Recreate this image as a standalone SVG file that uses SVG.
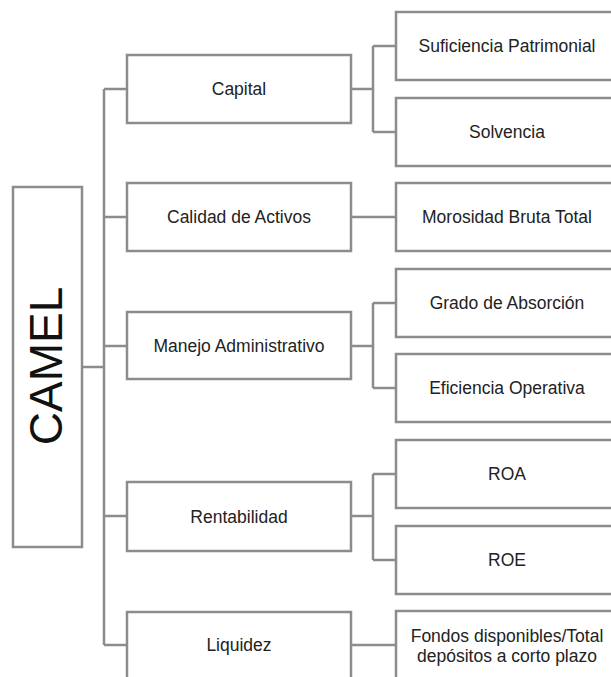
<svg xmlns="http://www.w3.org/2000/svg" width="611" height="677" viewBox="0 0 611 677">
<style>
.box{fill:#fff;stroke:#8c8c8c;stroke-width:2.5}
.ln{fill:none;stroke:#8c8c8c;stroke-width:2.5}
.t{font-family:"Liberation Sans",Arial,sans-serif;font-size:17.5px;fill:#222;text-anchor:middle}
.big{font-family:"Liberation Sans",Arial,sans-serif;font-size:46px;fill:#111;text-anchor:middle}
</style>
<rect width="611" height="677" fill="#fff"/>
<g id="connectors">
<path class="ln" d="M82,367H104M104,89V645M104,89H127M104,217H127M104,346H127M104,516H127M104,645H127"/>
<path class="ln" d="M351,89H373M373,46V132M373,46H396M373,132H396"/>
<path class="ln" d="M351,217H396"/>
<path class="ln" d="M351,346H373M373,303V388M373,303H396M373,388H396"/>
<path class="ln" d="M351,516H373M373,474V560M373,474H396M373,560H396"/>
<path class="ln" d="M351,645H396"/>
</g>
<g id="camel"><rect class="box" x="13" y="187" width="69" height="360"/><text class="big" transform="translate(62,366) rotate(-90)">CAMEL</text></g>
<g id="capital"><rect class="box" x="127" y="55" width="224" height="68"/><text class="t" x="239" y="95">Capital</text></g>
<g id="calidad"><rect class="box" x="127" y="183" width="224" height="68"/><text class="t" x="239" y="223">Calidad de Activos</text></g>
<g id="manejo"><rect class="box" x="127" y="312" width="224" height="67"/><text class="t" x="239" y="352">Manejo Administrativo</text></g>
<g id="rentabilidad"><rect class="box" x="127" y="482" width="224" height="69"/><text class="t" x="239" y="523">Rentabilidad</text></g>
<g id="liquidez"><rect class="box" x="127" y="612" width="224" height="68"/><text class="t" x="239" y="651">Liquidez</text></g>
<g id="suficiencia"><rect class="box" x="396" y="12" width="223" height="68"/><text class="t" x="507" y="52">Suficiencia Patrimonial</text></g>
<g id="solvencia"><rect class="box" x="396" y="98" width="223" height="68"/><text class="t" x="507" y="138">Solvencia</text></g>
<g id="morosidad"><rect class="box" x="396" y="183" width="223" height="68"/><text class="t" x="507" y="223">Morosidad Bruta Total</text></g>
<g id="grado"><rect class="box" x="396" y="269" width="223" height="68"/><text class="t" x="507" y="309">Grado de Absorción</text></g>
<g id="eficiencia"><rect class="box" x="396" y="354" width="223" height="68"/><text class="t" x="507" y="394">Eficiencia Operativa</text></g>
<g id="roa"><rect class="box" x="396" y="440" width="223" height="68"/><text class="t" x="507" y="480">ROA</text></g>
<g id="roe"><rect class="box" x="396" y="526" width="223" height="68"/><text class="t" x="507" y="566">ROE</text></g>
<g id="fondos"><rect class="box" x="396" y="611" width="223" height="68"/><text class="t" x="507" y="642">Fondos disponibles/Total</text><text class="t" x="507" y="662">depósitos a corto plazo</text></g>
</svg>
